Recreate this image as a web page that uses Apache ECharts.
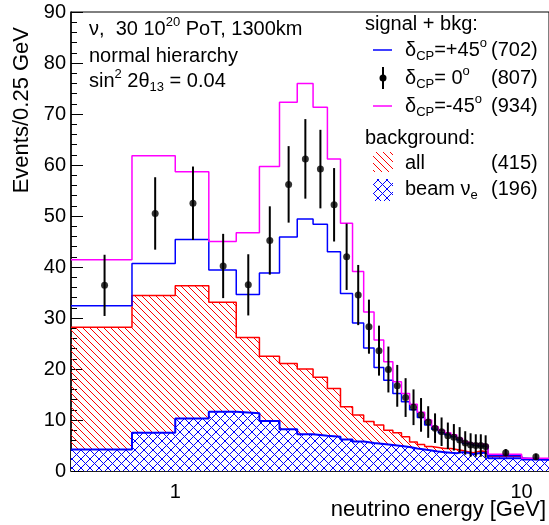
<!DOCTYPE html>
<html><head><meta charset="utf-8">
<script src="https://cdn.jsdelivr.net/npm/echarts@6/dist/echarts.min.js"></script>
<style>html,body{margin:0;padding:0;background:#fff}#c{width:549px;height:525px}</style>
</head><body><div id="c"></div>
<script>
// bin edges (GeV)
const edges = [0.5,0.75,1.0,1.25,1.5,1.75,2.0,2.25,2.5,2.75,3.0,3.25,3.5,3.75,4.0,4.25,4.5,4.75,5.0,5.25,5.5,5.75,6.0,6.25,6.5,6.75,7.0,7.25,7.5,7.75,8.0,10,12];
// bin centres for data points
const centers = [0.625,0.875,1.125,1.375,1.625,1.875,2.125,2.375,2.625,2.875,3.125,3.375,3.625,3.875,4.125,4.375,4.625,4.875,5.125,5.375,5.625,5.875,6.125,6.375,6.625,6.875,7.125,7.375,7.625,7.875,9,11];
// background: all
const bkgAll = [28.2,34.4,36.3,33.1,26.2,22.5,21.1,20.0,18.4,16.2,12.6,11.0,9.7,9.0,8.0,7.5,6.7,5.7,5.2,4.8,4.6,4.4,4.4,4.2,4.0,3.8,3.6,3.8,3.9,3.7,2.9,2.4];
// background: beam nu_e
const bkgBeam = [4.2,7.5,10.3,11.6,11.3,9.8,8.2,7.2,6.9,6.7,6.2,5.8,5.5,5.3,5.1,4.9,4.7,4.4,4.2,4.0,3.8,3.7,3.6,3.5,3.7,3.6,3.3,3.5,3.6,3.4,2.5,2.2];
// signal + bkg, dCP = +45
const sigP45 = [32.4,40.7,45.4,39.4,34.6,38.8,45.9,49.4,48.4,43.0,34.8,29.0,24.1,20.3,17.8,15.2,13.6,12.0,10.5,9.0,8.2,7.5,7.1,6.7,6.1,5.4,5.1,4.9,4.9,4.8,3.0,2.2];
// signal + bkg, dCP = -45
const sigM45 = [41.4,61.8,58.7,45.0,46.7,59.7,72.3,76.0,71.3,61.2,48.6,39.1,31.2,25.7,21.4,17.5,15.2,13.1,11.5,10.0,8.7,8.0,7.5,7.1,6.4,5.7,5.4,5.3,5.3,5.1,3.3,2.5];
// signal + bkg, dCP = 0 (points) and errors
const sig0 = [36.4,50.5,52.5,40.2,36.5,45.2,56.2,61.2,59.2,52.2,42.0,34.5,28.3,23.6,19.9,16.7,14.4,12.5,11.0,9.6,8.4,7.7,6.9,6.6,6.1,5.5,5.1,5.0,5.0,4.8,3.6,2.8];
const sig0Err = [6.0,7.1,7.2,6.3,6.0,6.7,7.5,7.8,7.7,7.2,6.5,5.9,5.3,4.9,4.5,4.1,3.8,3.5,3.3,3.1,2.9,2.8,2.6,2.6,2.5,2.3,2.3,2.2,2.2,2.2,0.7,0.6];
const yTicks = [0,10,20,30,40,50,60,70,80,90];
const xMajor = [1,10];
const xMinor = [0.6,0.7,0.8,0.9,2,3,4,5,6,7,8,9,11,12];
const legendRows = [
  {label:'{t|δ}{s|CP}{t|=+45}{p|o}', count:'(702)'},
  {label:'{t|δ}{s|CP}{t|= 0}{p|o}', count:'(807)'},
  {label:'{t|δ}{s|CP}{t|=-45}{p|o}', count:'(934)'}
];
const FONT = 'Liberation Sans, Arial, Helvetica, sans-serif';

function hatch(color, bg, cross, s) {
  const c = document.createElement('canvas');
  c.width = s; c.height = s;
  const g = c.getContext('2d');
  if (bg) { g.fillStyle = bg; g.fillRect(0,0,s,s); }
  g.fillStyle = color;
  for (let i = 0; i < s; i++) {
    g.fillRect(i, i, 1, 1);
    if (cross) g.fillRect(s-1-i, i, 1, 1);
  }
  return c;
}
const redPat = {image: hatch('#ff0000', null, false, 7), repeat:'repeat'};
const bluePat = {image: hatch('#0000ff', '#ffffff', true, 9), repeat:'repeat'};

function stepData(vals) {
  const d = vals.map((v,i)=>[edges[i], v]);
  d.push([edges[edges.length-1], vals[vals.length-1]]);
  return d;
}

const chart = echarts.init(document.getElementById('c'), null, {renderer:'canvas'});
const rich = {
  t:{fontSize:20, fontFamily:FONT, color:'#000'},
  s:{fontSize:13, fontFamily:FONT, color:'#000', padding:[12,0,0,0]},
  p:{fontSize:13, fontFamily:FONT, color:'#000', padding:[0,0,14,0]}
};
const graphics = [];
function txt(x,y,text,opts) {
  graphics.push(Object.assign({type:'text', x:x, y:y, z:100,
    style:{text:text, rich:rich, font:'20px '+FONT, fill:'#000', textAlign:'left', textVerticalAlign:'middle'}}, opts||{}));
}
txt(89, 29, '{t|ν,  30 10}{p|20}{t| PoT, 1300km}');
txt(89, 56, '{t|normal hierarchy}');
txt(89, 81, '{t|sin}{p|2}{t| 2θ}{s|13}{t| = 0.04}');
txt(365, 24, '{t|signal + bkg:}');
const rowY = [50,78,106];
legendRows.forEach((r,i)=>{
  txt(405, rowY[i], r.label);
  txt(491, rowY[i], '{t|'+r.count+'}');
});
txt(365, 138, '{t|background:}');
txt(405, 163, '{t|all}');
txt(491, 163, '{t|(415)}');
txt(405, 189, '{t|beam ν}{s|e}');
txt(491, 189, '{t|(196)}');
graphics.push({type:'line', z:100, shape:{x1:373,y1:50,x2:392,y2:50}, style:{stroke:'#0000ff', lineWidth:1.5}});
graphics.push({type:'line', z:100, shape:{x1:383,y1:67,x2:383,y2:89}, style:{stroke:'#000', lineWidth:2}});
graphics.push({type:'circle', z:101, shape:{cx:383,cy:78,r:3.5}, style:{fill:'#000'}});
graphics.push({type:'line', z:100, shape:{x1:373,y1:106,x2:392,y2:106}, style:{stroke:'#ff00ff', lineWidth:1.5}});
graphics.push({type:'rect', z:100, shape:{x:373,y:152,width:20,height:20}, style:{fill:redPat}});
graphics.push({type:'rect', z:100, shape:{x:373,y:179,width:20,height:22}, style:{fill:bluePat}});
// axis titles
graphics.push({type:'text', x:22, y:27, rotation:Math.PI/2, z:100,
  style:{text:'Events/0.25 GeV', font:'22px '+FONT, fill:'#000', textAlign:'right', textVerticalAlign:'middle'}});
graphics.push({type:'text', x:546, y:510, z:100,
  style:{text:'neutrino energy [GeV]', font:'22px '+FONT, fill:'#000', textAlign:'right', textVerticalAlign:'middle'}});

const xBase = {type:'log', logBase:10, min:0.5, max:12, gridIndex:0, position:'bottom', splitLine:{show:false}};
chart.setOption({
  animation:false,
  backgroundColor:'#fff',
  grid:{left:71, top:12, right:-2, bottom:54, show:true, borderColor:'#000', borderWidth:1, backgroundColor:'transparent'},
  xAxis:[
    Object.assign({}, xBase, {
      axisLine:{show:true, onZero:false, lineStyle:{color:'#000', width:1.5}},
      axisTick:{show:true, inside:true, length:13, customValues:xMajor, lineStyle:{color:'#000', width:1}},
      axisLabel:{show:true, customValues:xMajor, fontSize:20, fontFamily:FONT, color:'#000', margin:11, formatter:v=>String(v)}
    }),
    Object.assign({}, xBase, {
      axisLine:{show:false},
      axisTick:{show:true, inside:true, length:7, customValues:xMinor, lineStyle:{color:'#000', width:1}},
      axisLabel:{show:false}
    })
  ],
  yAxis:{type:'value', min:yTicks[0], max:yTicks[yTicks.length-1], interval:10,
    axisLine:{show:true, lineStyle:{color:'#000', width:1.5}},
    axisTick:{show:true, inside:true, length:12, lineStyle:{color:'#000'}},
    minorTick:{show:true, splitNumber:5, length:6, lineStyle:{color:'#000'}},
    splitLine:{show:false},
    axisLabel:{fontSize:20, fontFamily:FONT, color:'#000', margin:5}
  },
  graphic:graphics,
  series:[
    {type:'line', name:'all', step:'end', data:stepData(bkgAll), symbol:'none', z:2,
      lineStyle:{color:'#ff0000', width:1.5}, areaStyle:{color:redPat, opacity:1}},
    {type:'line', name:'beam', step:'end', data:stepData(bkgBeam), symbol:'none', z:3,
      lineStyle:{color:'#0000ff', width:2}, areaStyle:{color:bluePat, opacity:1}},
    {type:'line', name:'p45', step:'end', data:stepData(sigP45), symbol:'none', z:4,
      lineStyle:{color:'#0000ff', width:1.5}},
    {type:'line', name:'m45', step:'end', data:stepData(sigM45), symbol:'none', z:5,
      lineStyle:{color:'#ff00ff', width:1.5}},
    {type:'custom', name:'err', z:6, data:centers.map((c,i)=>[c, sig0[i], sig0Err[i]]),
      renderItem:(params, api)=>{
        const x = api.value(0), y = api.value(1), e = api.value(2);
        const a = api.coord([x, y-e]), b = api.coord([x, y+e]);
        return {type:'line', shape:{x1:a[0], y1:a[1], x2:b[0], y2:b[1]}, style:{stroke:'#000', lineWidth:2}};
      }},
    {type:'scatter', name:'d0', z:7, data:centers.map((c,i)=>[c, sig0[i]]), symbol:'circle', symbolSize:7,
      itemStyle:{color:'#000'}}
  ]
});
</script></body></html>
